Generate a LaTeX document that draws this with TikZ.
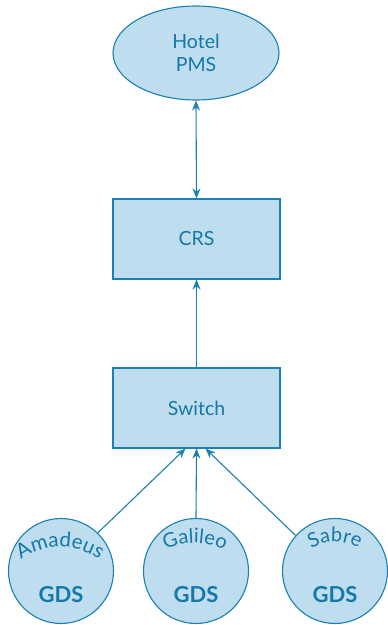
\documentclass[tikz,border=0pt]{standalone}
\usepackage{fontspec}
\setmainfont{Lato}
\usetikzlibrary{arrows.meta,shapes.geometric,decorations.text,calc}
\definecolor{stroke}{HTML}{1B80B2}
\definecolor{fillc}{HTML}{BEDDEE}
\definecolor{txt}{HTML}{1578AA}
\begin{document}
\begin{tikzpicture}[x=1pt,y=1pt,
  box/.style={draw=stroke,fill=fillc,line width=1.1pt,minimum width=167pt,minimum height=80pt,inner sep=0pt,text=txt,font=\fontsize{19.5}{22}\selectfont},
  pms/.style={ellipse,draw=stroke,fill=fillc,line width=1.1pt,minimum width=166pt,minimum height=94pt,inner sep=0pt,text=txt,align=center,font=\fontsize{19.5}{23}\selectfont},
  gds/.style={circle,draw=stroke,fill=fillc,line width=1.1pt,minimum size=105pt,inner sep=0pt},
  gdslabel/.style={text=txt,font=\fontsize{22}{24}\selectfont\bfseries},
  conn/.style={draw=stroke,line width=1.1pt,-{Stealth[length=10pt,width=8pt]}},
  curved/.style={decorate,decoration={text along path,text align=center,text={#1}}}
]
\useasboundingbox (0,0) rectangle (388,625);
\node[pms] (pms) at (196,572) {Hotel\\PMS};
\node[box] (crs) at (196.5,386) {CRS};
\node[box] (sw) at (196.5,217) {Switch};
\node[gds] (a) at (61,54) {};
\node[gds] (g) at (196,54) {};
\node[gds] (s) at (335,54) {};
\node[gdslabel] (ga) at (61,30) {GDS};
\node[gdslabel] (gg) at (196,30) {GDS};
\node[gdslabel] (gs) at (335,30) {GDS};
\path[curved={|\fontsize{20.5}{24}\selectfont\color{txt}|Amadeus}] (60,12) ++(140:66) arc[start angle=140,end angle=40,radius=66];
\path[curved={|\fontsize{20}{24}\selectfont\color{txt}|Galileo}] (195,18) ++(125:64) arc[start angle=125,end angle=55,radius=64];
\path[curved={|\fontsize{20}{24}\selectfont\color{txt}|Sabre}] (335,35) ++(130:48) arc[start angle=130,end angle=50,radius=48];
\coordinate (t1) at ($(sw.south)+(-11,0)$);
\coordinate (t3) at ($(sw.south)+(9,0)$);
\draw[conn] (a.46) -- (t1);
\draw[conn] (g.north) -- (sw.south);
\draw[conn] (s.138) -- (t3);
\draw[conn] (sw.north) -- (crs.south);
\draw[conn,{Stealth[length=10pt,width=8pt]}-{Stealth[length=10pt,width=8pt]}] (pms.south) -- (crs.north);
\end{tikzpicture}
\end{document}
